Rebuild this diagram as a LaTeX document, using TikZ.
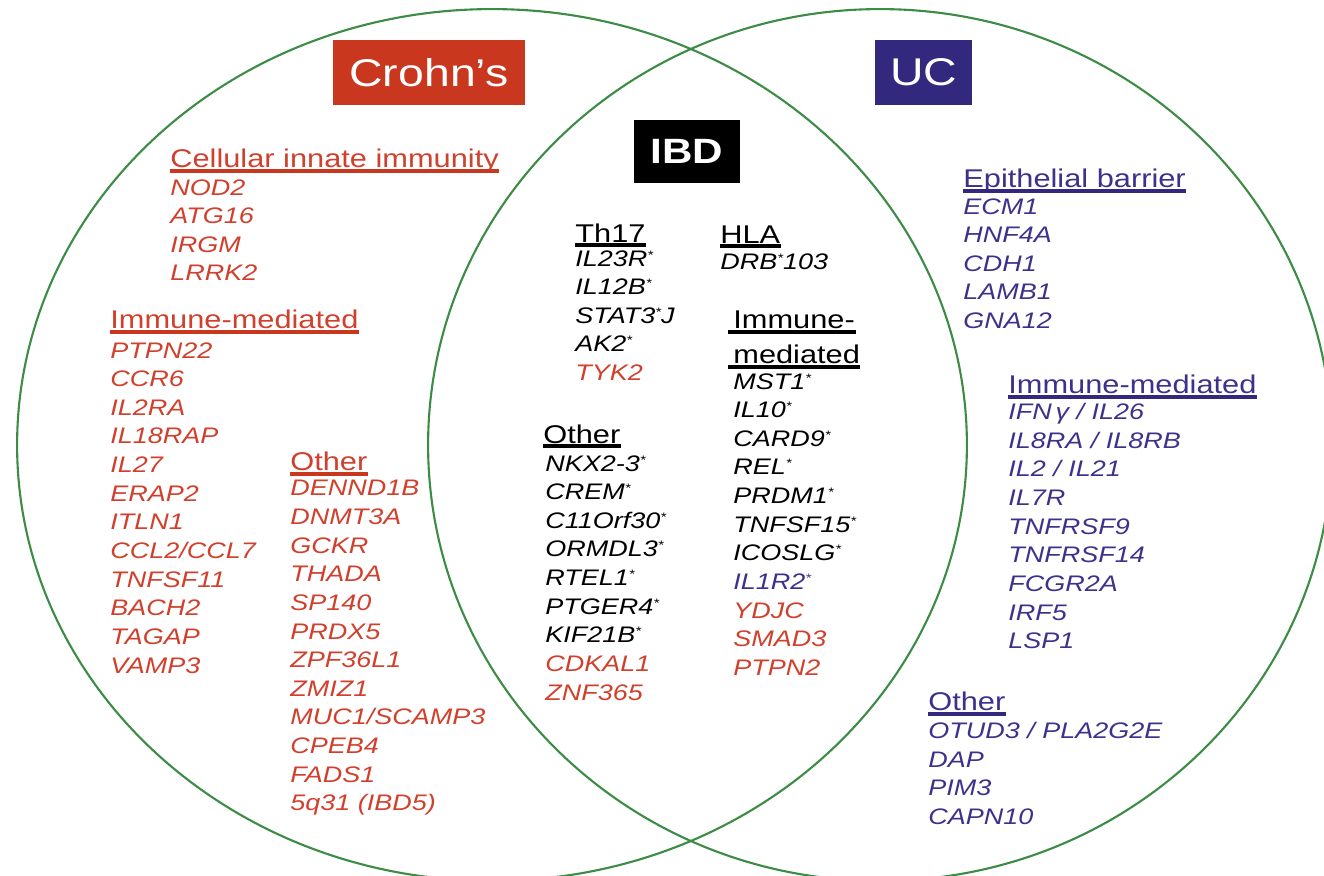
\documentclass[tikz,border=0pt]{standalone}
\usepackage{fontspec}
\setmainfont[FakeStretch=1.2]{Liberation Sans}

\definecolor{crohnred}{RGB}{200,55,30}
\definecolor{crohntext}{RGB}{208,64,44}
\definecolor{ucblue}{RGB}{50,40,125}
\definecolor{uctext}{RGB}{60,50,140}
\definecolor{venngreen}{RGB}{60,140,70}

\newcommand{\gstar}{\raisebox{4pt}{\fontsize{7}{7}\selectfont*}}

\tikzset{
    gene/.style={anchor=north west, inner sep=0pt, align=left,
        font=\fontsize{12.8}{16.3}\selectfont\itshape},
    head/.style={anchor=base west, inner sep=0pt,
        font=\fontsize{14.6}{17}\selectfont},
    title/.style={minimum height=1.3cm, inner sep=0pt, text=white,
        font=\fontsize{22}{26}\selectfont},
    ulred/.style={crohnred, line width=2.6pt},
    ulblue/.style={ucblue, line width=2.8pt},
    ulblack/.style={black, line width=1.8pt}
}

\begin{document}
\begin{tikzpicture}[x=0.02cm, y=-0.02cm]
                \useasboundingbox (0, 0) rectangle (1324, 875);

                \draw[venngreen, line width=1.2pt] (492, 445) ellipse [x radius=9.5cm, y radius=8.72cm];
                \draw[venngreen, line width=1.2pt] (880, 445) ellipse [x radius=9.04cm, y radius=8.72cm];

                \node[title, fill=crohnred, minimum width=3.84cm] (crohnBox) at (429, 72.5) {Crohn's};
                \node[title, fill=ucblue, minimum width=1.94cm] (ucBox) at (923.5, 72.5) {UC};
                \node[title, fill=black, minimum width=2.12cm, minimum height=1.26cm,
                    font=\fontsize{20}{24}\selectfont\bfseries] (ibdBox) at (687, 151.5) {IBD};

                \node[head, text=crohntext] (cellHead) at (170, 167) {Cellular innate immunity};
                \draw[ulred] ([yshift=-0.08cm]cellHead.base west) -- ([yshift=-0.08cm]cellHead.base east);
                \node[gene, text=crohntext] (cellGenes) at (170, 179) {NOD2\\ATG16\\IRGM\\LRRK2};

                \node[head, text=crohntext] (leftImmHead) at (110, 328) {Immune-mediated};
                \draw[ulred] ([yshift=-0.08cm]leftImmHead.base west) -- ([yshift=-0.08cm]leftImmHead.base east);
                \node[gene, text=crohntext] (leftImmGenes) at (110, 342)
                    {PTPN22\\CCR6\\IL2RA\\IL18RAP\\IL27\\ERAP2\\ITLN1\\CCL2/CCL7\\TNFSF11\\BACH2\\TAGAP\\VAMP3};

                \node[head, text=crohntext] (leftOtherHead) at (290, 470) {Other};
                \draw[ulred] ([yshift=-0.08cm]leftOtherHead.base west) -- ([yshift=-0.08cm]leftOtherHead.base east);
                \node[gene, text=crohntext] (leftOtherGenes) at (290, 480)
                    {DENND1B\\DNMT3A\\GCKR\\THADA\\SP140\\PRDX5\\ZPF36L1\\ZMIZ1\\MUC1/SCAMP3\\CPEB4\\FADS1\\5q31 (IBD5)};

                \node[head] (thHead) at (575, 242) {Th17};
                \draw[ulblack] ([yshift=-0.06cm]thHead.base west) -- ([yshift=-0.06cm]thHead.base east);
                \node[gene] (thGenes) at (575, 250)
                    {IL23R\gstar\\IL12B\gstar\\STAT3\gstar J\\AK2\gstar\\{\color{crohntext}TYK2}};

                \node[head] (hlaHead) at (720, 243) {HLA};
                \draw[ulblack] ([yshift=-0.06cm]hlaHead.base west) -- ([yshift=-0.06cm]hlaHead.base east);
                \node[gene] (hlaGenes) at (720, 253) {DRB\gstar 103};

                \node[head] (midImmHeadA) at (733, 328) {Immune-};
                \draw[ulblack] ([xshift=-0.1cm, yshift=-0.08cm]midImmHeadA.base west) -- ++(128, 0);
                \node[head] (midImmHeadB) at (733, 363) {mediated};
                \draw[ulblack] ([xshift=-0.1cm, yshift=-0.08cm]midImmHeadB.base west) -- ++(132, 0);
                \node[gene] (midImmGenes) at (733, 373)
                    {MST1\gstar\\IL10\gstar\\CARD9\gstar\\REL\gstar\\PRDM1\gstar\\TNFSF15\gstar\\ICOSLG\gstar\\
                     {\color{uctext}IL1R2\gstar}\\
                     {\color{crohntext}YDJC}\\{\color{crohntext}SMAD3}\\{\color{crohntext}PTPN2}};

                \node[head] (midOtherHead) at (543, 443) {Other};
                \draw[ulblack] ([yshift=-0.06cm]midOtherHead.base west) -- ([yshift=-0.06cm]midOtherHead.base east);
                \node[gene] (midOtherGenes) at (545, 455)
                    {NKX2-3\gstar\\CREM\gstar\\C11Orf30\gstar\\ORMDL3\gstar\\RTEL1\gstar\\PTGER4\gstar\\KIF21B\gstar\\
                     {\color{crohntext}CDKAL1}\\{\color{crohntext}ZNF365}};

                \node[head, text=uctext] (epiHead) at (963, 187) {Epithelial barrier};
                \draw[ulblue] ([yshift=-0.08cm]epiHead.base west) -- ([yshift=-0.08cm]epiHead.base east);
                \node[gene, text=uctext] (epiGenes) at (963, 198) {ECM1\\HNF4A\\CDH1\\LAMB1\\GNA12};

                \node[head, text=uctext] (rightImmHead) at (1008, 393) {Immune-mediated};
                \draw[ulblue] ([yshift=-0.08cm]rightImmHead.base west) -- ([yshift=-0.08cm]rightImmHead.base east);
                \node[gene, text=uctext] (rightImmGenes) at (1008, 403)
                    {IFN\,γ / IL26\\IL8RA / IL8RB\\IL2 / IL21\\IL7R\\TNFRSF9\\TNFRSF14\\FCGR2A\\IRF5\\LSP1};

                \node[head, text=uctext] (rightOtherHead) at (928, 710) {Other};
                \draw[ulblue] ([yshift=-0.08cm]rightOtherHead.base west) -- ([yshift=-0.08cm]rightOtherHead.base east);
                \node[gene, text=uctext] (rightOtherGenes) at (928, 722) {OTUD3 / PLA2G2E\\DAP\\PIM3\\CAPN10};

            \end{tikzpicture}
\end{document}
